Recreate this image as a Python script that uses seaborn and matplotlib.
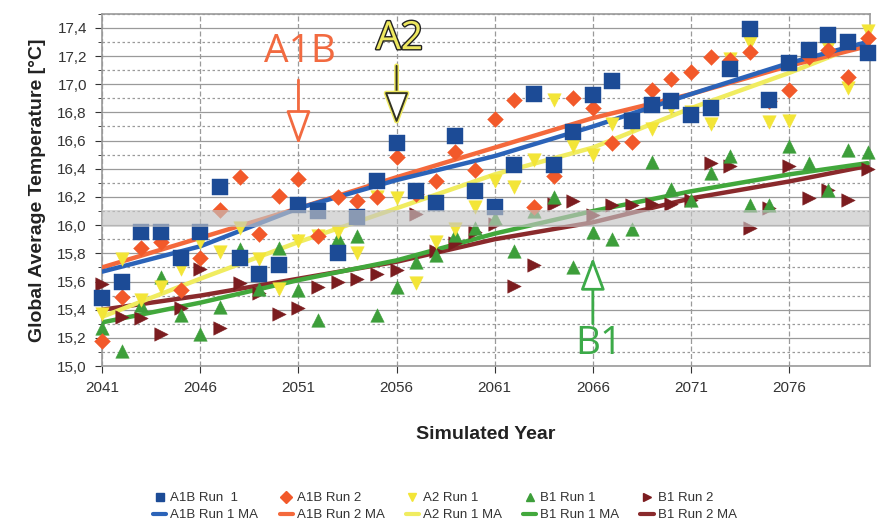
import numpy as np
import pandas as pd
import matplotlib
matplotlib.use('Agg')
import matplotlib.pyplot as plt
import matplotlib.patheffects as pe
from matplotlib.lines import Line2D
from matplotlib.ticker import MultipleLocator, FuncFormatter
import seaborn as sns

years = np.arange(2041, 2081)

# scatter values, one per simulated year (2041-2080)
a1b_run1 = [15.48, 15.60, 15.95, 15.95, 15.77, 15.95, 16.27, 15.77, 15.65, 15.72,
            16.14, 16.10, 15.80, 16.06, 16.31, 16.58, 16.24, 16.16, 16.63, 16.24,
            16.13, 16.43, 16.93, 16.43, 16.66, 16.92, 17.02, 16.74, 16.85, 16.88,
            16.78, 16.83, 17.11, 17.39, 16.89, 17.15, 17.24, 17.35, 17.30, 17.22]
a1b_run2 = [15.18, 15.49, 15.84, 15.88, 15.54, 15.77, 16.11, 16.34, 15.94, 16.21,
            16.33, 15.92, 16.20, 16.17, 16.20, 16.48, 16.22, 16.31, 16.52, 16.39,
            16.75, 16.89, 16.13, 16.35, 16.90, 16.83, 16.58, 16.59, 16.96, 17.04,
            17.09, 17.19, 17.17, 17.23, 16.88, 16.96, 17.19, 17.24, 17.05, 17.33]
a2_run1 = [15.37, 15.76, 15.47, 15.56, 15.69, 15.88, 15.81, 15.98, 15.76, 15.55,
           15.89, 15.92, 15.95, 15.80, 16.20, 16.19, 15.59, 15.88, 15.97, 16.13,
           16.31, 16.27, 16.46, 16.89, 16.56, 16.50, 16.72, 16.70, 16.68, 16.83,
           16.80, 16.72, 17.18, 17.29, 16.73, 16.74, 17.20, 17.26, 16.97, 17.38]
b1_run1 = [15.27, 15.11, 15.43, 15.63, 15.36, 15.23, 15.42, 15.83, 15.55, 15.84,
           15.54, 15.33, 15.91, 15.92, 15.36, 15.56, 15.74, 15.79, 15.93, 15.98,
           16.05, 15.82, 16.10, 16.20, 15.70, 15.95, 15.90, 15.97, 16.45, 16.26,
           16.18, 16.37, 16.49, 16.14, 16.14, 16.56, 16.44, 16.25, 16.53, 16.52]
b1_run2 = [15.58, 15.35, 15.34, 15.23, 15.41, 15.69, 15.27, 15.59, 15.52, 15.37,
           15.41, 15.56, 15.60, 15.62, 15.65, 15.68, 16.08, 15.82, 15.87, 15.95,
           16.01, 15.57, 15.72, 16.15, 16.17, 16.07, 16.14, 16.14, 16.15, 16.15,
           16.18, 16.44, 16.42, 15.98, 16.12, 16.42, 16.19, 16.25, 16.18, 16.40]

# moving average lines, read at every tick year plus the end
ma_years = [2041, 2046, 2051, 2056, 2061, 2066, 2071, 2076, 2080]
a1b_run1_ma = [15.67, 15.85, 16.12, 16.32, 16.49, 16.70, 16.93, 17.15, 17.30]
a1b_run2_ma = [15.70, 15.91, 16.12, 16.34, 16.55, 16.76, 16.93, 17.13, 17.27]
a2_run1_ma = [15.35, 15.62, 15.88, 16.12, 16.36, 16.55, 16.83, 17.08, 17.30]
b1_run1_ma = [15.31, 15.45, 15.61, 15.75, 15.94, 16.10, 16.24, 16.36, 16.44]
b1_run2_ma = [15.40, 15.50, 15.62, 15.74, 15.90, 16.02, 16.19, 16.31, 16.42]

sns.set_style('white')
plt.rcParams['font.family'] = ['Liberation Sans', 'DejaVu Sans']

fig = plt.figure(figsize=(8.81, 5.29), dpi=100)
ax = fig.add_axes([0.116, 0.308, 0.871, 0.666])

c_blue, c_orange, c_yellow, c_green, c_brown = '#1c4b96', '#f2592a', '#f3e537', '#3d9e3a', '#7b1c1f'
l_blue, l_orange, l_yellow, l_green, l_brown = '#2b63b8', '#f4693c', '#f0ec60', '#42a83c', '#8a2a2c'

# MA lines
for vals, col in [(b1_run2_ma, l_brown), (b1_run1_ma, l_green), (a2_run1_ma, l_yellow),
                  (a1b_run2_ma, l_orange), (a1b_run1_ma, l_blue)]:
    sns.lineplot(x=ma_years, y=vals, color=col, lw=3.2, ax=ax, zorder=3)

# scatter series (bottom to top)
series = [
    (b1_run2, c_brown, '>', 95),
    (b1_run1, c_green, '^', 95),
    (a2_run1, c_yellow, 'v', 95),
    (a1b_run2, c_orange, 'D', 65),
    (a1b_run1, c_blue, 's', 135),
]
for i, (vals, col, mk, sz) in enumerate(series):
    sns.scatterplot(x=years, y=vals, color=col, marker=mk, s=sz, linewidth=0.3,
                    edgecolor=col, ax=ax, zorder=4 + i)
for coll in ax.collections:
    coll.set_clip_on(False)

# gray band
ax.axhspan(15.99, 16.11, color='#c4c4c4', alpha=0.65, lw=0, zorder=10)

ax.set_xlim(2041, 2080.1)
ax.set_ylim(15.0, 17.5)
ax.set_xticks([2041, 2046, 2051, 2056, 2061, 2066, 2071, 2076])
ax.yaxis.set_major_locator(MultipleLocator(0.2))
ax.yaxis.set_minor_locator(MultipleLocator(0.1))
ax.yaxis.set_major_formatter(FuncFormatter(lambda v, p: ('%.1f' % v).replace('.', ',')))
ax.grid(True, which='major', axis='y', color='#9a9a9a', lw=0.9)
ax.grid(True, which='minor', axis='y', color='#9a9a9a', lw=0.9, ls=(0, (2, 2)))
ax.grid(True, which='major', axis='x', color='#9a9a9a', lw=0.9, ls=(0, (4, 2)))
ax.tick_params(axis='both', which='major', labelsize=11, colors='#333333',
               length=5, direction='out', left=True, bottom=True, pad=6)
ax.tick_params(axis='y', which='minor', length=3, left=True)
for s in ax.spines.values():
    s.set_color('#9a9a9a')
    s.set_linewidth(1.2)

ax.set_xlabel('Simulated Year', fontsize=14, fontweight='bold', labelpad=22, color='#222222')
ax.set_ylabel('Global Average Temperature [°C]', fontsize=14, fontweight='bold', labelpad=8, color='#222222')

# annotations
ann_font = ['Open Sans', 'DejaVu Sans']
ax.text(2051.1, 17.23, 'A1B', color='#f26a40', fontsize=28, ha='center', va='center', family=ann_font)
ax.annotate('', xy=(2051, 16.57), xytext=(2051, 17.03), zorder=12,
            arrowprops=dict(arrowstyle='-|>,head_length=2.1,head_width=0.75', lw=2,
                            ec='#f26a40', fc='white', shrinkA=0, shrinkB=0))
ax.text(2056.15, 17.32, 'A2', color='#eee860', fontsize=28, ha='center', va='center', family=ann_font,
        path_effects=[pe.withStroke(linewidth=2, foreground='#222222')], zorder=12)
ax.annotate('', xy=(2056, 16.72), xytext=(2056, 17.13), zorder=12,
            arrowprops=dict(arrowstyle='-|>,head_length=2.0,head_width=0.75', lw=1.4,
                            ec='#333322', fc='white', shrinkA=0, shrinkB=0,
                            path_effects=[pe.withStroke(linewidth=3.5, foreground='#eee860')]))
ax.text(2066.3, 15.16, 'B1', color='#3caa48', fontsize=28, ha='center', va='center', family=ann_font, zorder=12)
ax.annotate('', xy=(2066, 15.77), xytext=(2066, 15.30), zorder=12,
            arrowprops=dict(arrowstyle='-|>,head_length=2.0,head_width=0.75', lw=2,
                            ec='#3caa48', fc='white', shrinkA=0, shrinkB=0))

# legend
names = ['A1B Run  1', 'A1B Run 2', 'A2 Run 1', 'B1 Run 1', 'B1 Run 2']
line_cols = [l_blue, l_orange, l_yellow, l_green, l_brown]
handles, labels = [], []
for (vals, col, mk, sz), name, lc in zip(series[::-1], names, line_cols):
    handles.append(Line2D([], [], marker=mk, color=col, ls='none', markersize=6))
    labels.append(name)
    handles.append(Line2D([], [], color=lc, lw=3))
    labels.append(name.replace('  ', ' ') + ' MA')
fig.legend(handles, labels, loc='center', bbox_to_anchor=(0.505, 0.042), ncol=5, frameon=False,
           fontsize=9.5, handlelength=1.0, handletextpad=0.3, columnspacing=1.6, labelspacing=0.35,
           labelcolor='#333333')

fig.savefig('out.png', dpi=100)
